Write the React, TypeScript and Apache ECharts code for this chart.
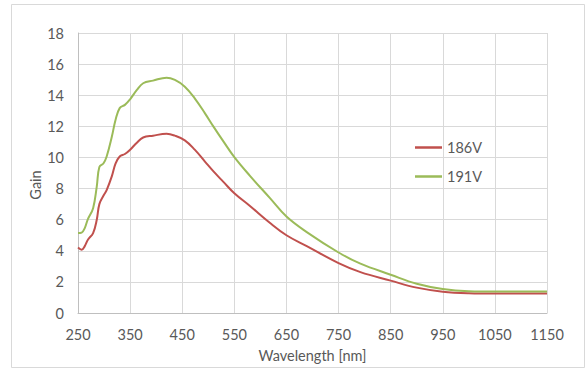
import React, { useEffect, useRef } from "react";
import * as echarts from "echarts";

const wavelengths = [250, 257, 263, 269, 279, 286, 291, 299, 305, 315, 322, 330, 340, 350, 363, 375, 394, 420, 436, 455, 474, 494, 510, 529, 550, 580, 618, 650, 689, 750, 792, 850, 900, 950, 1000, 1050, 1100, 1150];
const gain186 = [4.21, 4.07, 4.3, 4.71, 5.14, 5.99, 7.0, 7.55, 7.9, 8.8, 9.6, 10.06, 10.22, 10.5, 10.95, 11.28, 11.4, 11.52, 11.4, 11.1, 10.5, 9.72, 9.1, 8.43, 7.7, 6.88, 5.8, 5.0, 4.3, 3.21, 2.63, 2.08, 1.63, 1.37, 1.27, 1.25, 1.25, 1.25];
const gain191 = [5.14, 5.17, 5.46, 6.04, 6.74, 8.13, 9.38, 9.63, 10.06, 11.34, 12.41, 13.17, 13.38, 13.74, 14.34, 14.77, 14.94, 15.13, 14.98, 14.55, 13.8, 12.82, 11.98, 11.03, 10.02, 8.82, 7.4, 6.2, 5.2, 3.89, 3.17, 2.46, 1.88, 1.54, 1.4, 1.38, 1.38, 1.39];
const seriesNames = ["186V", "191V"];
const xTitle = "Wavelength [nm]";
const yTitle = "Gain";

const FONT = "Lato";
const FS = 14.5;
const TEXT = "#595959";
const GRID = "#d9d9d9";

export default function App() {
  const ref = useRef<HTMLDivElement>(null);
  useEffect(() => {
    if (!ref.current) return;
    const chart = echarts.init(ref.current, undefined, { renderer: "svg" });
    const pair = (ys: number[]) => wavelengths.map((x, i) => [x, ys[i]]);
    chart.setOption({
      animation: false,
      backgroundColor: "#ffffff",
      textStyle: { fontFamily: FONT },
      grid: { left: 78, top: 33, right: 41, bottom: 57, containLabel: false },
      graphic: [
        {
          type: "rect",
          shape: { x: 11.5, y: 4.5, width: 573, height: 363 },
          style: { fill: "none", stroke: GRID, lineWidth: 1 },
          z: -10,
        },
        {
          type: "text",
          x: 35,
          y: 185,
          rotation: Math.PI / 2,
          style: {
            text: yTitle,
            fill: TEXT,
            font: `${FS}px ${FONT}`,
            align: "center",
            verticalAlign: "middle",
          },
        },
      ],
      legend: {
        orient: "vertical",
        left: 410,
        top: 134,
        icon: "rect",
        itemWidth: 27,
        itemHeight: 2.5,
        itemGap: 12,
        textStyle: { color: TEXT, fontSize: FS, fontFamily: FONT, lineHeight: 17 },
        data: seriesNames,
      },
      xAxis: {
        type: "value",
        min: 250,
        max: 1150,
        interval: 100,
        name: xTitle,
        nameLocation: "middle",
        nameGap: 35,
        nameTextStyle: { color: TEXT, fontSize: FS, fontFamily: FONT },
        axisLine: { lineStyle: { color: "#bfbfbf" } },
        axisTick: { show: false },
        axisLabel: {
          color: TEXT,
          fontSize: FS,
          margin: 14,
          fontFamily: FONT,
          formatter: (v: number) => String(v),
        },
        splitLine: { show: true, lineStyle: { color: GRID, width: 1 } },
      },
      yAxis: {
        type: "value",
        min: 0,
        max: 18,
        interval: 2,
        axisLine: { show: true, lineStyle: { color: "#bfbfbf" } },
        axisTick: { show: false },
        axisLabel: { color: TEXT, fontSize: FS, margin: 14, fontFamily: FONT },
        splitLine: { show: true, lineStyle: { color: GRID, width: 1 } },
      },
      series: [
        {
          name: seriesNames[0],
          type: "line",
          data: pair(gain186),
          symbol: "none",
          smooth: 0.4,
          lineStyle: { color: "#c0504d", width: 2 },
          itemStyle: { color: "#c0504d" },
        },
        {
          name: seriesNames[1],
          type: "line",
          data: pair(gain191),
          symbol: "none",
          smooth: 0.4,
          lineStyle: { color: "#9bbb59", width: 2 },
          itemStyle: { color: "#9bbb59" },
        },
      ],
    });
    return () => chart.dispose();
  }, []);
  return (
    <div
      ref={ref}
      style={{ position: "fixed", left: 0, top: 0, width: 588, height: 370 }}
    />
  );
}
